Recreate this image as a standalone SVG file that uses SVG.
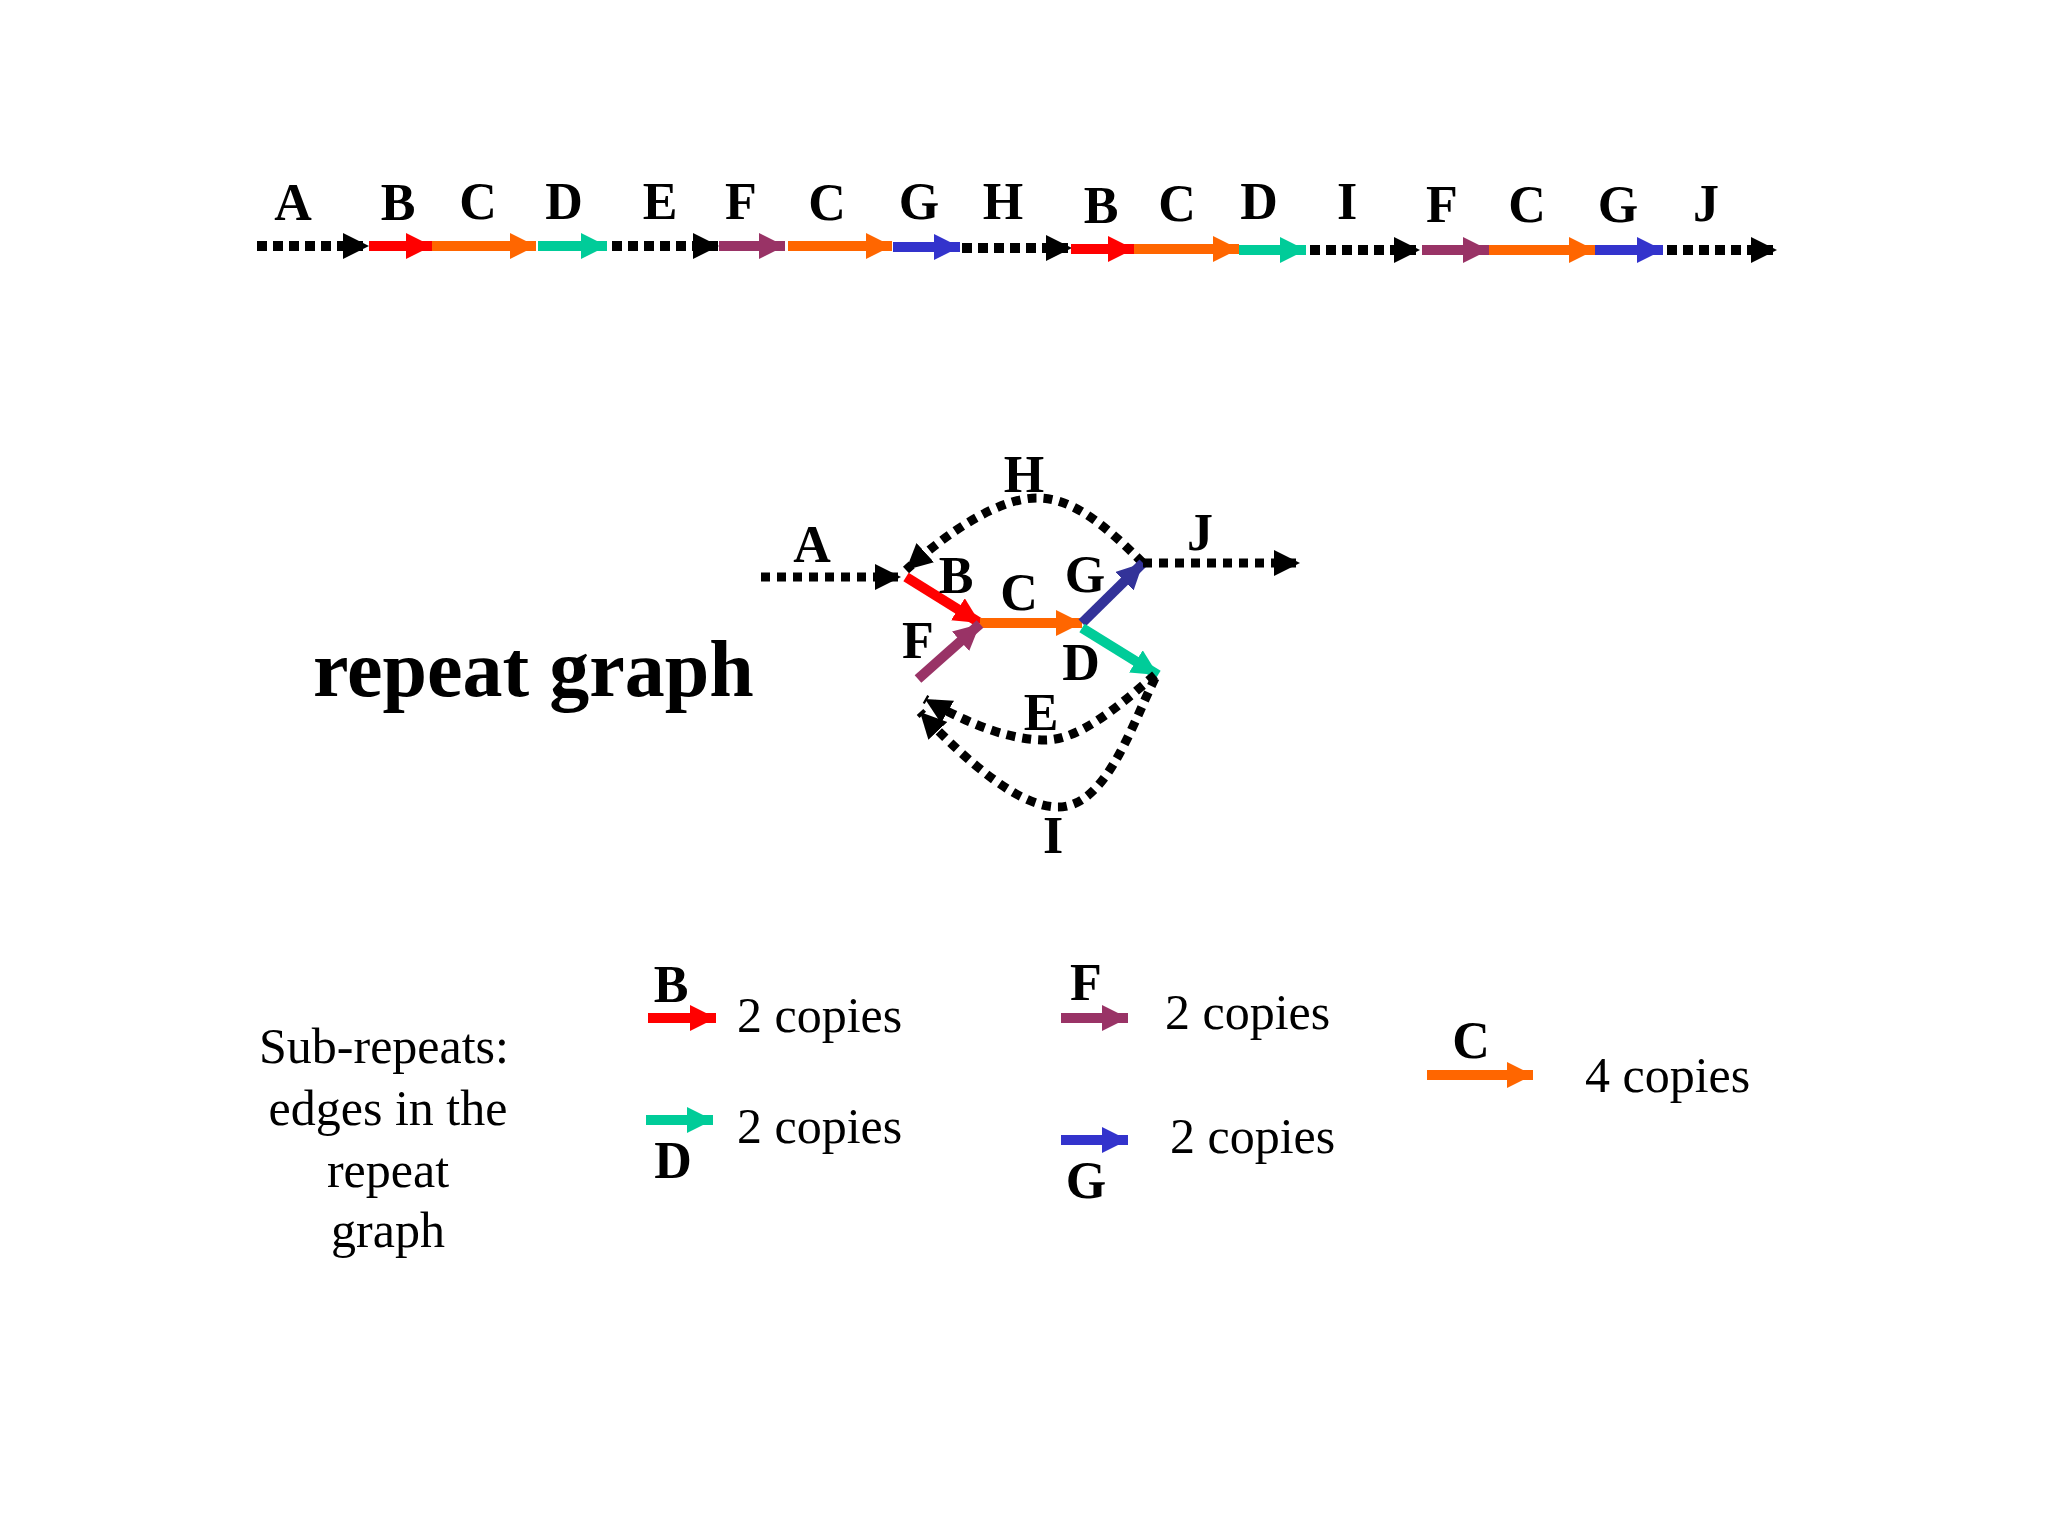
<svg xmlns="http://www.w3.org/2000/svg" width="2048" height="1536" viewBox="0 0 2048 1536">
<style>
.lb{font-family:"Liberation Serif","Times New Roman",serif;font-weight:bold;font-size:52px;text-anchor:middle;fill:#000}
.tx{font-family:"Liberation Serif","Times New Roman",serif;font-size:50px;fill:#000}
.sh{stroke-width:10;fill:none}
.dt{stroke:#000;stroke-width:10;stroke-dasharray:10 6;fill:none}
.dm{stroke:#000;stroke-width:9;stroke-dasharray:9 7;fill:none}
</style>
<defs>
<marker id="mk" markerUnits="userSpaceOnUse" markerWidth="28" markerHeight="28" refX="26" refY="13" orient="auto"><path d="M0,0 L26,13 L0,26z" fill="#000"/></marker>
<marker id="mr" markerUnits="userSpaceOnUse" markerWidth="28" markerHeight="28" refX="26" refY="13" orient="auto"><path d="M0,0 L26,13 L0,26z" fill="#ff0000"/></marker>
<marker id="mo" markerUnits="userSpaceOnUse" markerWidth="28" markerHeight="28" refX="26" refY="13" orient="auto"><path d="M0,0 L26,13 L0,26z" fill="#ff6600"/></marker>
<marker id="mg" markerUnits="userSpaceOnUse" markerWidth="28" markerHeight="28" refX="26" refY="13" orient="auto"><path d="M0,0 L26,13 L0,26z" fill="#00cc99"/></marker>
<marker id="mp" markerUnits="userSpaceOnUse" markerWidth="28" markerHeight="28" refX="26" refY="13" orient="auto"><path d="M0,0 L26,13 L0,26z" fill="#993366"/></marker>
<marker id="mb" markerUnits="userSpaceOnUse" markerWidth="28" markerHeight="28" refX="26" refY="13" orient="auto"><path d="M0,0 L26,13 L0,26z" fill="#3333cc"/></marker>
<marker id="mn" markerUnits="userSpaceOnUse" markerWidth="28" markerHeight="28" refX="26" refY="13" orient="auto"><path d="M0,0 L26,13 L0,26z" fill="#333399"/></marker>
</defs>
<rect width="2048" height="1536" fill="#fff"/>

<g id="sequence">
<line class="dt" x1="257" y1="246" x2="369" y2="246" marker-end="url(#mk)"/>
<line class="sh" stroke="#ff0000" x1="369" y1="246" x2="432" y2="246" marker-end="url(#mr)"/>
<line class="sh" stroke="#ff6600" x1="432" y1="246" x2="536" y2="246" marker-end="url(#mo)"/>
<line class="sh" stroke="#00cc99" x1="538" y1="246" x2="607" y2="246" marker-end="url(#mg)"/>
<line class="dt" x1="612" y1="246" x2="719" y2="246" marker-end="url(#mk)"/>
<line class="sh" stroke="#993366" x1="719" y1="246" x2="785" y2="246" marker-end="url(#mp)"/>
<line class="sh" stroke="#ff6600" x1="788" y1="246" x2="892" y2="246" marker-end="url(#mo)"/>
<line class="sh" stroke="#3333cc" x1="893" y1="247" x2="960" y2="247" marker-end="url(#mb)"/>
<line class="dt" x1="962" y1="248" x2="1072" y2="248" marker-end="url(#mk)"/>
<line class="sh" stroke="#ff0000" x1="1071" y1="249" x2="1134" y2="249" marker-end="url(#mr)"/>
<line class="sh" stroke="#ff6600" x1="1134" y1="249" x2="1239" y2="249" marker-end="url(#mo)"/>
<line class="sh" stroke="#00cc99" x1="1239" y1="250" x2="1306" y2="250" marker-end="url(#mg)"/>
<line class="dt" x1="1310" y1="250" x2="1420" y2="250" marker-end="url(#mk)"/>
<line class="sh" stroke="#993366" x1="1422" y1="250" x2="1489" y2="250" marker-end="url(#mp)"/>
<line class="sh" stroke="#ff6600" x1="1489" y1="250" x2="1595" y2="250" marker-end="url(#mo)"/>
<line class="sh" stroke="#3333cc" x1="1595" y1="250" x2="1663" y2="250" marker-end="url(#mb)"/>
<line class="dt" x1="1667" y1="250" x2="1777" y2="250" marker-end="url(#mk)"/>
<text class="lb" x="293" y="220">A</text>
<text class="lb" x="398" y="220">B</text>
<text class="lb" x="478" y="219">C</text>
<text class="lb" x="564" y="219">D</text>
<text class="lb" x="660" y="219">E</text>
<text class="lb" x="741" y="219">F</text>
<text class="lb" x="827" y="220">C</text>
<text class="lb" x="919" y="219">G</text>
<text class="lb" x="1003" y="219">H</text>
<text class="lb" x="1101" y="223">B</text>
<text class="lb" x="1177" y="221">C</text>
<text class="lb" x="1259" y="219">D</text>
<text class="lb" x="1347" y="219">I</text>
<text class="lb" x="1442" y="222">F</text>
<text class="lb" x="1527" y="222">C</text>
<text class="lb" x="1618" y="222">G</text>
<text class="lb" x="1706" y="221">J</text>
</g>

<g id="title"><text x="313" y="696" font-family="Liberation Serif, Times New Roman, serif" font-weight="bold" font-size="80">repeat graph</text></g>

<g id="connectors">
<line class="dm" x1="761" y1="577" x2="901" y2="577" marker-end="url(#mk)"/>
<path class="dm" d="M1143,563 C1100,520 1070,498 1037,498 C1000,498 950,530 906,570" marker-end="url(#mk)"/>
<line class="sh" stroke="#ff0000" x1="906" y1="577" x2="980" y2="623" marker-end="url(#mr)"/>
<line class="sh" stroke="#ff6600" x1="980" y1="623" x2="1082" y2="623" marker-end="url(#mo)"/>
<line class="sh" stroke="#333399" x1="1082" y1="623" x2="1143" y2="563" marker-end="url(#mn)"/>
<line class="dm" x1="1143" y1="563" x2="1300" y2="563" marker-end="url(#mk)"/>
<line class="sh" stroke="#00cc99" x1="1082" y1="628" x2="1158" y2="675" marker-end="url(#mg)"/>
<line class="sh" stroke="#993366" x1="918" y1="679" x2="980" y2="624" marker-end="url(#mp)"/>
<path class="dm" d="M1155,675 C1120,705 1080,740 1045,740 C1010,740 970,725 925,699" marker-end="url(#mk)"/>
<path class="dm" d="M1155,678 C1130,730 1105,807 1058,807 C1020,807 970,765 920,712" marker-end="url(#mk)"/>
</g>
<g id="graph-labels">
<text class="lb" x="1024" y="492">H</text>
<text class="lb" x="812" y="562">A</text>
<text class="lb" x="956" y="593">B</text>
<text class="lb" x="1019" y="610">C</text>
<text class="lb" x="1085" y="592">G</text>
<text class="lb" x="1200" y="550">J</text>
<text class="lb" x="918" y="658">F</text>
<text class="lb" x="1081" y="680">D</text>
<text class="lb" x="1041" y="730">E</text>
<text class="lb" x="1053" y="853">I</text>
</g>

<g id="legend">
<text class="tx" x="384" y="1063" text-anchor="middle">Sub-repeats:</text>
<text class="tx" x="388" y="1125" text-anchor="middle">edges in the</text>
<text class="tx" x="388" y="1187" text-anchor="middle">repeat</text>
<text class="tx" x="388" y="1247" text-anchor="middle">graph</text>
<line class="sh" stroke="#ff0000" x1="648" y1="1018" x2="716" y2="1018" marker-end="url(#mr)"/>
<text class="lb" x="671" y="1002">B</text>
<text class="tx" x="737" y="1032">2 copies</text>
<line class="sh" stroke="#00cc99" x1="646" y1="1120" x2="713" y2="1120" marker-end="url(#mg)"/>
<text class="lb" x="673" y="1178">D</text>
<text class="tx" x="737" y="1143">2 copies</text>
<line class="sh" stroke="#993366" x1="1061" y1="1018" x2="1128" y2="1018" marker-end="url(#mp)"/>
<text class="lb" x="1086" y="1000">F</text>
<text class="tx" x="1165" y="1029">2 copies</text>
<line class="sh" stroke="#3333cc" x1="1061" y1="1140" x2="1128" y2="1140" marker-end="url(#mb)"/>
<text class="lb" x="1086" y="1198">G</text>
<text class="tx" x="1170" y="1153">2 copies</text>
<line class="sh" stroke="#ff6600" x1="1427" y1="1075" x2="1533" y2="1075" marker-end="url(#mo)"/>
<text class="lb" x="1471" y="1058">C</text>
<text class="tx" x="1585" y="1092">4 copies</text>
</g>
</svg>
